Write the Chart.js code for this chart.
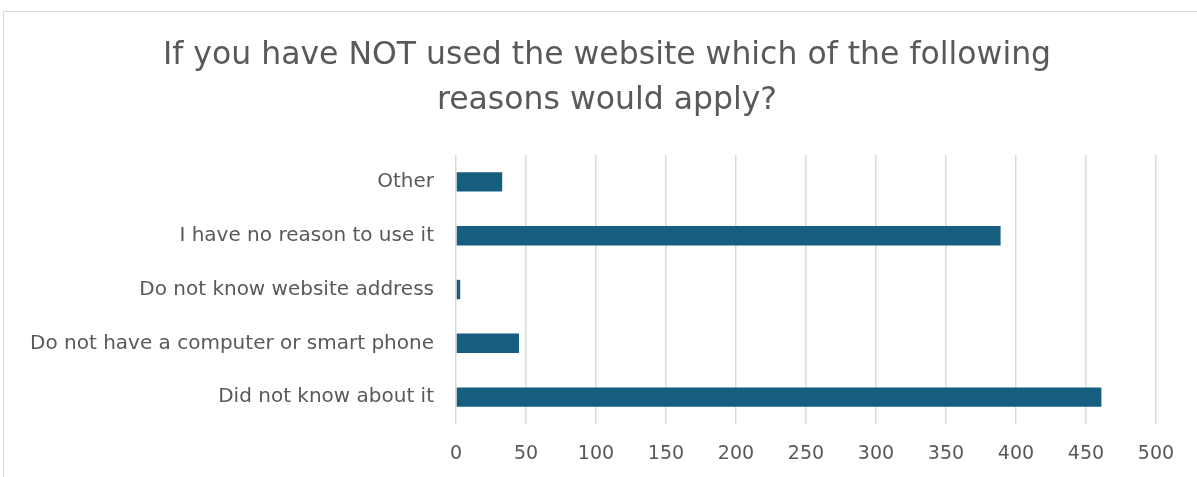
<!DOCTYPE html>
<html>
<head>
<meta charset="utf-8">
<script src="https://cdn.jsdelivr.net/npm/chart.js@4/dist/chart.umd.min.js"></script>
<style>
html,body{margin:0;padding:0;background:#fff;}
#wrap{position:relative;width:1197px;height:477px;}
</style>
</head>
<body>
<div id="wrap"><canvas id="c" width="1197" height="477"></canvas></div>
<script>
const categories = ["Other", "I have no reason to use it", "Do not know website address", "Do not have a computer or smart phone", "Did not know about it"];
const values = [33, 389, 3, 45, 461];
const titleLines = ["If you have NOT used the website which of the following", "reasons would apply?"];
const xTicks = [0, 50, 100, 150, 200, 250, 300, 350, 400, 450, 500];

const FONT = "'DejaVu Sans', 'Liberation Sans', sans-serif";
const TXT = "#595959";

const frame = {
  id: 'frame',
  beforeDraw(chart) {
    const ctx = chart.ctx;
    ctx.save();
    ctx.fillStyle = '#fff';
    ctx.fillRect(0, 0, chart.width, chart.height);
    ctx.strokeStyle = '#d9d9d9';
    ctx.lineWidth = 1;
    ctx.beginPath();
    ctx.moveTo(3.5, chart.height);
    ctx.lineTo(3.5, 11.5);
    ctx.lineTo(chart.width, 11.5);
    ctx.stroke();
    ctx.restore();
  },
  afterDraw(chart) {
    const ctx = chart.ctx;
    ctx.save();
    ctx.fillStyle = TXT;
    ctx.font = "31.5px " + FONT;
    ctx.textAlign = 'center';
    ctx.textBaseline = 'middle';
    ctx.fillText(titleLines[0], 607, 56);
    ctx.fillText(titleLines[1], 607, 101);
    ctx.restore();
  }
};

new Chart(document.getElementById('c'), {
  type: 'bar',
  data: {
    labels: categories,
    datasets: [{
      data: values,
      backgroundColor: '#165e80',
      borderWidth: 0,
      categoryPercentage: 1,
      barPercentage: 0.36
    }]
  },
  options: {
    indexAxis: 'y',
    responsive: false,
    animation: false,
    devicePixelRatio: 1,
    layout: { padding: { left: 0, right: 41, top: 155, bottom: 0 } },
    plugins: {
      legend: { display: false },
      tooltip: { enabled: false },
      title: { display: false }
    },
    scales: {
      x: {
        min: 0,
        max: 500,
        afterBuildTicks(scale) { scale.ticks = xTicks.map(v => ({ value: v })); },
        afterFit(scale) { scale.height = 53; },
        grid: { color: '#d9d9d9', lineWidth: 1.5, drawTicks: false },
        border: { display: false },
        ticks: { color: TXT, font: { family: FONT, size: 19 }, padding: 19, maxRotation: 0 }
      },
      y: {
        afterFit(scale) { scale.width = 456; },
        grid: { display: false, drawTicks: false },
        border: { display: false },
        ticks: { color: TXT, font: { family: FONT, size: 20 }, padding: 22 }
      }
    }
  },
  plugins: [frame]
});
</script>
</body>
</html>
